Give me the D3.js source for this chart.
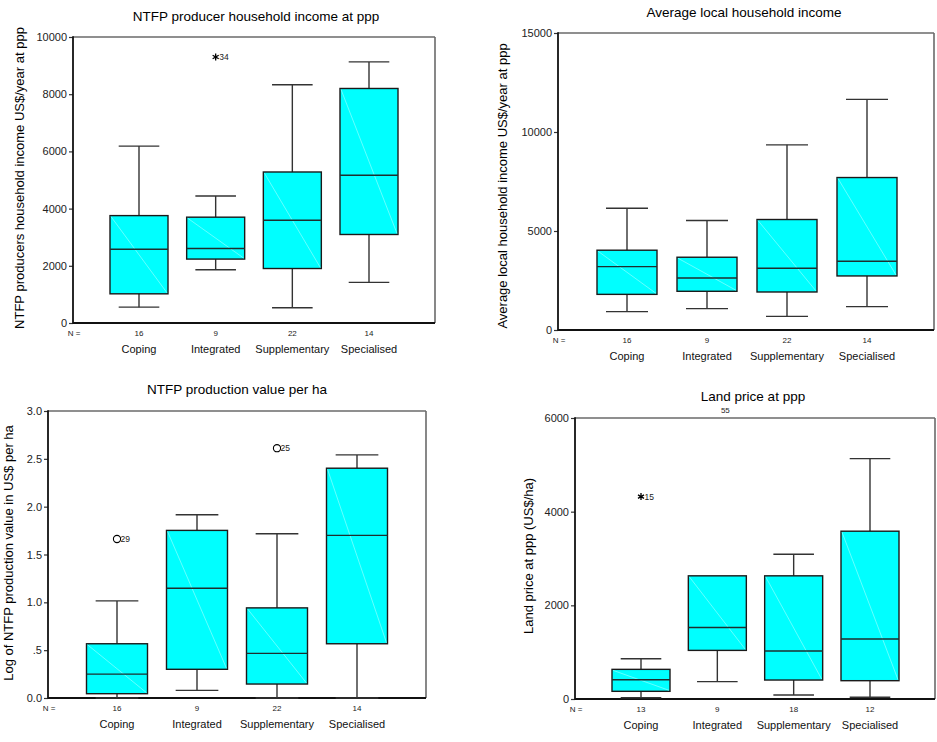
<!DOCTYPE html>
<html>
<head>
<meta charset="utf-8">
<script src="https://cdn.jsdelivr.net/npm/d3@7"></script>
<style>
  html, body { margin: 0; padding: 0; background: #fff; }
  svg { display: block; font-family: "Liberation Sans", Arial, sans-serif; }
</style>
</head>
<body>
<svg id="chart" width="937" height="742"></svg>
<script>
// ---------- DATA ----------
const categories = ["Coping", "Integrated", "Supplementary", "Specialised"];

// [lower whisker, Q1, median, Q3, upper whisker]
const producerIncomeN = [16, 9, 22, 14];
const producerIncomeStats = [
  [555, 1020, 2580, 3755, 6185],
  [1860, 2235, 2605, 3700, 4440],
  [535, 1905, 3595, 5280, 8330],
  [1420, 3095, 5165, 8200, 9130]
];
const producerIncomeOutliers = [{ cat: "Integrated", value: 9300, label: "34", kind: "extreme" }];
const producerIncomeTicks = [0, 2000, 4000, 6000, 8000, 10000];

const localIncomeN = [16, 9, 22, 14];
const localIncomeStats = [
  [930, 1800, 3200, 4030, 6150],
  [1080, 1955, 2630, 3675, 5530],
  [690, 1920, 3120, 5580, 9350],
  [1180, 2730, 3470, 7700, 11650]
];
const localIncomeOutliers = [];
const localIncomeTicks = [0, 5000, 10000, 15000];

const productionN = [16, 9, 22, 14];
const productionStats = [
  [0.0, 0.045, 0.25, 0.567, 1.015],
  [0.08, 0.30, 1.147, 1.752, 1.915],
  [0.0, 0.146, 0.466, 0.942, 1.717],
  [0.0, 0.567, 1.70, 2.402, 2.541]
];
const productionOutliers = [
  { cat: "Coping", value: 1.662, label: "29", kind: "outlier" },
  { cat: "Supplementary", value: 2.611, label: "25", kind: "outlier" }
];
const productionTicks = [0, 0.5, 1.0, 1.5, 2.0, 2.5, 3.0];

const landN = [13, 9, 18, 12];
const landStats = [
  [28, 164, 412, 633, 860],
  [370, 1038, 1528, 2630, 2630],
  [85, 405, 1024, 2630, 3092],
  [36, 391, 1280, 3583, 5133]
];
const landOutliers = [{ cat: "Coping", value: 4322, label: "15", kind: "extreme" }];
const landOffscaleLabels = [{ cat: "Integrated", label: "55" }];
const landTicks = [0, 2000, 4000, 6000];

// ---------- DRAWING ----------
const svg = d3.select("#chart");
const FONT = "'Liberation Sans', Arial, sans-serif";

function drawPanel(cfg) {
  const g = svg.append("g");
  const x = d3.scalePoint().domain(categories).range([cfg.cx0, cfg.cx1]);
  const y = d3.scaleLinear().domain(cfg.domain).range([cfg.bottom, cfg.top]);

  // Title
  g.append("text")
    .attr("x", cfg.titleX).attr("y", cfg.titleY)
    .attr("text-anchor", "middle")
    .attr("font-size", 13.5).attr("fill", "#000")
    .text(cfg.title);

  // Y label
  g.append("text")
    .attr("transform", `translate(${cfg.ylabX},${cfg.ylabY}) rotate(-90)`)
    .attr("text-anchor", "middle")
    .attr("font-size", 13).attr("fill", "#000")
    .text(cfg.ylabel);

  // Y axis (ticks + labels)
  const yAxis = d3.axisLeft(y).tickValues(cfg.ticks).tickSize(4).tickPadding(2)
    .tickFormat(cfg.fmt);
  const ya = g.append("g").attr("transform", `translate(${cfg.left},0)`).call(yAxis);
  ya.select(".domain").remove();
  ya.selectAll(".tick line").attr("stroke", "#333").attr("stroke-width", 1.2);
  ya.selectAll(".tick text").attr("font-size", 11).attr("fill", "#222")
    .attr("font-family", FONT);

  // Frame: top/right gray, left/bottom dark
  g.append("line").attr("x1", cfg.left).attr("x2", cfg.right).attr("y1", cfg.top).attr("y2", cfg.top)
    .attr("stroke", "#6a6a6a").attr("stroke-width", 1.6);
  g.append("line").attr("x1", cfg.right).attr("x2", cfg.right).attr("y1", cfg.top).attr("y2", cfg.bottom)
    .attr("stroke", "#6a6a6a").attr("stroke-width", 1.6);
  g.append("line").attr("x1", cfg.left).attr("x2", cfg.left).attr("y1", cfg.top - 0.8).attr("y2", cfg.bottom + 0.8)
    .attr("stroke", "#111").attr("stroke-width", 1.8);
  g.append("line").attr("x1", cfg.left).attr("x2", cfg.right).attr("y1", cfg.bottom).attr("y2", cfg.bottom)
    .attr("stroke", "#111").attr("stroke-width", 1.8);

  const bw = cfg.boxWidth, cw = bw * 0.7;
  const boxes = g.selectAll("g.box").data(categories.map((c, i) => ({ c, s: cfg.stats[i], n: cfg.n[i] })))
    .enter().append("g").attr("class", "box");

  // whiskers
  boxes.append("line")
    .attr("x1", d => x(d.c)).attr("x2", d => x(d.c))
    .attr("y1", d => y(d.s[0])).attr("y2", d => y(d.s[1]))
    .attr("stroke", "#333").attr("stroke-width", 1.4);
  boxes.append("line")
    .attr("x1", d => x(d.c)).attr("x2", d => x(d.c))
    .attr("y1", d => y(d.s[3])).attr("y2", d => y(d.s[4]))
    .attr("stroke", "#333").attr("stroke-width", 1.4);
  boxes.append("line")
    .attr("x1", d => x(d.c) - cw / 2).attr("x2", d => x(d.c) + cw / 2)
    .attr("y1", d => y(d.s[0])).attr("y2", d => y(d.s[0]))
    .attr("stroke", "#333").attr("stroke-width", 1.4);
  boxes.filter(d => d.s[4] > d.s[3]).append("line")
    .attr("x1", d => x(d.c) - cw / 2).attr("x2", d => x(d.c) + cw / 2)
    .attr("y1", d => y(d.s[4])).attr("y2", d => y(d.s[4]))
    .attr("stroke", "#333").attr("stroke-width", 1.4);

  // box
  boxes.append("rect")
    .attr("x", d => x(d.c) - bw / 2).attr("width", bw)
    .attr("y", d => y(d.s[3])).attr("height", d => y(d.s[1]) - y(d.s[3]))
    .attr("fill", "#00ffff").attr("stroke", "#1a1a1a").attr("stroke-width", 1.4);
  // faint diagonal
  boxes.append("line")
    .attr("x1", d => x(d.c) - bw / 2 + 1).attr("y1", d => y(d.s[3]) + 1)
    .attr("x2", d => x(d.c) + bw / 2 - 1).attr("y2", d => y(d.s[1]) - 1)
    .attr("stroke", "#c8ffff").attr("stroke-width", 0.5);
  // median
  boxes.append("line")
    .attr("x1", d => x(d.c) - bw / 2).attr("x2", d => x(d.c) + bw / 2)
    .attr("y1", d => y(d.s[2])).attr("y2", d => y(d.s[2]))
    .attr("stroke", "#1e2e2e").attr("stroke-width", 1.4);

  // N counts
  g.append("text").attr("x", cfg.left + 1).attr("y", cfg.bottom + 13)
    .attr("text-anchor", "middle").attr("font-size", 8).attr("fill", "#222").text("N =");
  boxes.append("text")
    .attr("x", d => x(d.c)).attr("y", cfg.bottom + 13)
    .attr("text-anchor", "middle").attr("font-size", 8).attr("fill", "#222")
    .text(d => d.n);
  // category labels
  boxes.append("text")
    .attr("x", d => x(d.c)).attr("y", cfg.bottom + 30)
    .attr("text-anchor", "middle").attr("font-size", 11).attr("fill", "#111")
    .text(d => d.c);

  // outliers
  const star = d3.symbolAsterisk || d3.symbolCross;
  cfg.outliers.forEach(o => {
    const ox = x(o.cat), oy = y(o.value);
    if (o.kind === "extreme") {
      g.append("path").attr("transform", `translate(${ox},${oy})`)
        .attr("d", d3.symbol(star).size(34)())
        .attr("fill", "none").attr("stroke", "#000").attr("stroke-width", 1.3);
    } else {
      g.append("circle").attr("cx", ox).attr("cy", oy).attr("r", 3.6)
        .attr("fill", "none").attr("stroke", "#000").attr("stroke-width", 1.1);
    }
    g.append("text").attr("x", ox + 3.5).attr("y", oy + 3)
      .attr("font-size", 8.5).attr("fill", "#222").text(o.label);
  });
  (cfg.offscale || []).forEach(o => {
    g.append("text").attr("x", x(o.cat) + 8).attr("y", cfg.top - 5)
      .attr("text-anchor", "middle").attr("font-size", 8).attr("fill", "#222").text(o.label);
  });
}

const fmtInt = d3.format("d");
const fmtLog = v => v === 0 ? "0.0" : (v === 0.5 ? ".5" : d3.format(".1f")(v));

drawPanel({
  title: "NTFP producer household income at ppp", titleX: 256, titleY: 21,
  ylabel: "NTFP producers household income US$/year at ppp", ylabX: 24, ylabY: 178,
  left: 73, right: 435, top: 37, bottom: 323, cx0: 139, cx1: 369, boxWidth: 58,
  domain: [0, 10000], ticks: producerIncomeTicks, fmt: fmtInt,
  stats: producerIncomeStats, n: producerIncomeN, outliers: producerIncomeOutliers
});

drawPanel({
  title: "Average local household income", titleX: 744, titleY: 17,
  ylabel: "Average local household income US$/year at ppp", ylabX: 507, ylabY: 186,
  left: 558, right: 934, top: 33, bottom: 330, cx0: 627, cx1: 867, boxWidth: 60,
  domain: [0, 15000], ticks: localIncomeTicks, fmt: fmtInt,
  stats: localIncomeStats, n: localIncomeN, outliers: localIncomeOutliers
});

drawPanel({
  title: "NTFP production value per ha", titleX: 237, titleY: 394,
  ylabel: "Log of NTFP production value in US$ per ha", ylabX: 13, ylabY: 553,
  left: 48, right: 426, top: 411, bottom: 698, cx0: 117, cx1: 357, boxWidth: 61,
  domain: [0, 3], ticks: productionTicks, fmt: fmtLog,
  stats: productionStats, n: productionN, outliers: productionOutliers
});

drawPanel({
  title: "Land price at ppp", titleX: 753, titleY: 401,
  ylabel: "Land price at ppp (US$/ha)", ylabX: 533, ylabY: 556,
  left: 575, right: 935, top: 418, bottom: 699, cx0: 641, cx1: 870, boxWidth: 58,
  domain: [0, 6000], ticks: landTicks, fmt: fmtInt,
  stats: landStats, n: landN, outliers: landOutliers, offscale: landOffscaleLabels
});
</script>
</body>
</html>
